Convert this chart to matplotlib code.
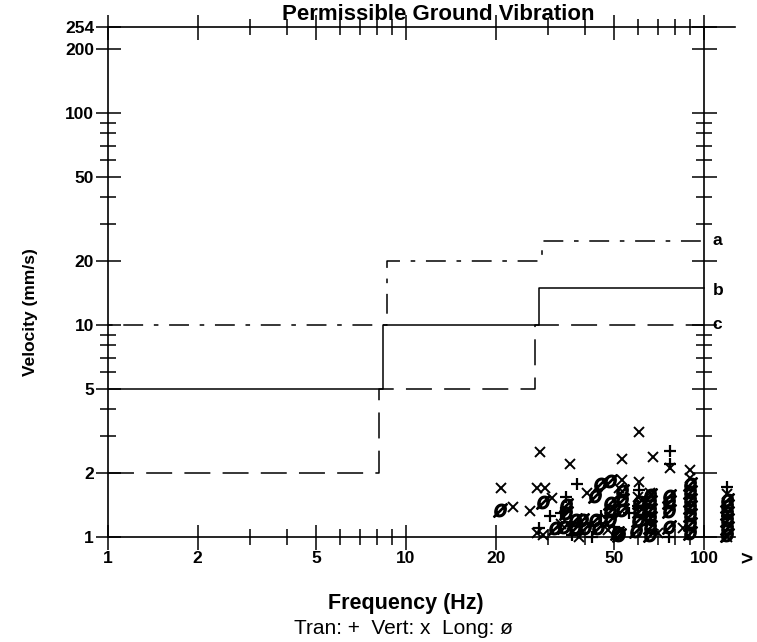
import matplotlib
matplotlib.use('Agg')
import matplotlib.pyplot as plt
from matplotlib.ticker import FixedLocator, NullFormatter

plt.rcParams['font.family'] = ['Liberation Sans', 'DejaVu Sans']

# limit curves (step functions)
freq_a = [1, 8.6, 28.5, 100]
vel_a = [10, 20, 25, 25]
freq_b = [1, 8.4, 28, 100]
vel_b = [5, 10, 15, 15]
freq_c = [1, 8.1, 27, 100]
vel_c = [2, 5, 10, 10]

# measured peaks
tran_f = [30.5, 34.5, 37.4, 33, 42, 60.5, 77, 77, 66, 119, 28, 45, 56, 89.6, 76, 60, 119, 36, 50]
tran_v = [1.25, 1.55, 1.77, 1.3, 1.0, 1.67, 2.55, 2.2, 1.2, 1.73, 1.1, 1.25, 1.3, 1.4, 1.0, 1.4, 1.25, 1.02, 1.12]

vert_f = [20.9, 22.8, 26.1, 28.2, 27.5, 29.3, 31.0, 27.5, 28.8, 35.5, 40.4, 47.6, 53, 53,
          60.5, 60.5, 67.5, 77, 89.6, 66, 89.6, 119, 33, 38, 52, 60, 70, 85, 119]
vert_v = [1.71, 1.39, 1.33, 2.52, 1.71, 1.71, 1.53, 1.04, 1.02, 2.2, 1.62, 1.08, 2.33, 1.85,
          3.13, 1.82, 2.39, 2.12, 2.08, 1.62, 1.9, 1.6, 1.15, 1.0, 1.7, 1.55, 1.05, 1.1, 1.0]

long_f = [20.6, 28.8, 34.5, 34.5, 31.5, 34, 37, 39, 40, 37, 44, 43, 43, 44.6, 48.3, 48.3,
          48.3, 48.3, 52, 51, 53, 53, 53, 60.5, 60.5, 60, 59, 66, 66, 66, 66, 66, 66,
          76.5, 76.5, 76.5, 76.5, 89.6, 89.6, 89.6, 89.6, 89.6, 89.6, 89.6,
          119, 119, 119, 119, 119, 119]
long_v = [1.34, 1.47, 1.42, 1.3, 1.1, 1.12, 1.2, 1.2, 1.1, 1.1, 1.1, 1.2, 1.56, 1.77, 1.83, 1.45,
          1.32, 1.2, 1.02, 1.05, 1.5, 1.64, 1.34, 1.47, 1.33, 1.2, 1.07, 1.58, 1.47, 1.34, 1.23, 1.12, 1.02,
          1.56, 1.47, 1.33, 1.12, 1.78, 1.63, 1.5, 1.38, 1.27, 1.15, 1.05,
          1.5, 1.4, 1.3, 1.2, 1.1, 1.02]

y_major = [1, 2, 5, 10, 20, 50, 100, 200, 254]
x_major = [1, 2, 5, 10, 20, 50, 100]
minors = [3, 4, 6, 7, 8, 9, 30, 40, 60, 70, 80, 90]

fig = plt.figure(figsize=(7.57, 6.42), dpi=100)
ax = fig.add_axes([108/757, 1 - 537/642, (735 - 108)/757, (537 - 27)/642])
ax.set_xscale('log')
ax.set_yscale('log')
ax.set_xlim(1, 127)
ax.set_ylim(1, 254)

k = 'black'
ax.step(freq_a, vel_a, where='post', color=k, lw=1.1, dashes=(3, 7, 13, 7))
ax.step(freq_b, vel_b, where='post', color=k, lw=1.1)
ax.step(freq_c, vel_c, where='post', color=k, lw=1.1, dashes=(17, 8))

ax.plot(long_f, long_v, ls='none', marker='$ø$', ms=10, color=k, clip_on=False)
ax.plot(vert_f, vert_v, ls='none', marker='x', ms=7, mew=1.4, color=k, clip_on=False)
ax.plot(tran_f, tran_v, ls='none', marker='+', ms=9, mew=1.6, color=k, clip_on=False)

for lab, v in [('a', 25), ('b', 14.5), ('c', 10)]:
    ax.text(107, v, lab, fontsize=12.5, fontweight='bold', va='center', ha='left')

# frame: right line sits at 100 Hz
ax.spines['right'].set_position(('data', 100))
for s in ax.spines.values():
    s.set_linewidth(1.2)

ax.xaxis.set_major_locator(FixedLocator(x_major))
ax.xaxis.set_minor_locator(FixedLocator(minors))
ax.xaxis.set_minor_formatter(NullFormatter())
ax.set_xticklabels([str(v) for v in x_major])
ax.yaxis.set_major_locator(FixedLocator(y_major))
ax.yaxis.set_minor_locator(FixedLocator(minors))
ax.yaxis.set_minor_formatter(NullFormatter())
ax.set_yticklabels([str(v) for v in y_major])

ax.tick_params(which='both', top=True, right=True, direction='inout', width=1.1, pad=1,
               labelsize=12.5)
ax.tick_params(which='major', length=18)
ax.tick_params(which='minor', length=11)
for t in ax.get_xticklabels() + ax.get_yticklabels():
    t.set_fontweight('bold')

fig.text(746/757, 1 - 560/642, '>', fontsize=15, fontweight='bold', ha='center', va='center')
fig.text(438/757, 1 - 14/642, 'Permissible Ground Vibration', fontsize=16, fontweight='bold',
         ha='center', va='center')
fig.text(30/757, 1 - 312/642, 'Velocity (mm/s)', fontsize=12.5, fontweight='bold',
         ha='center', va='center', rotation=90)
fig.text(406/757, 1 - 604/642, 'Frequency (Hz)', fontsize=15.5, fontweight='bold',
         ha='center', va='center')
fig.text(403/757, 1 - 628/642, 'Tran: +  Vert: x  Long: ø', fontsize=15,
         ha='center', va='center')

fig.savefig('out.png', dpi=100)
